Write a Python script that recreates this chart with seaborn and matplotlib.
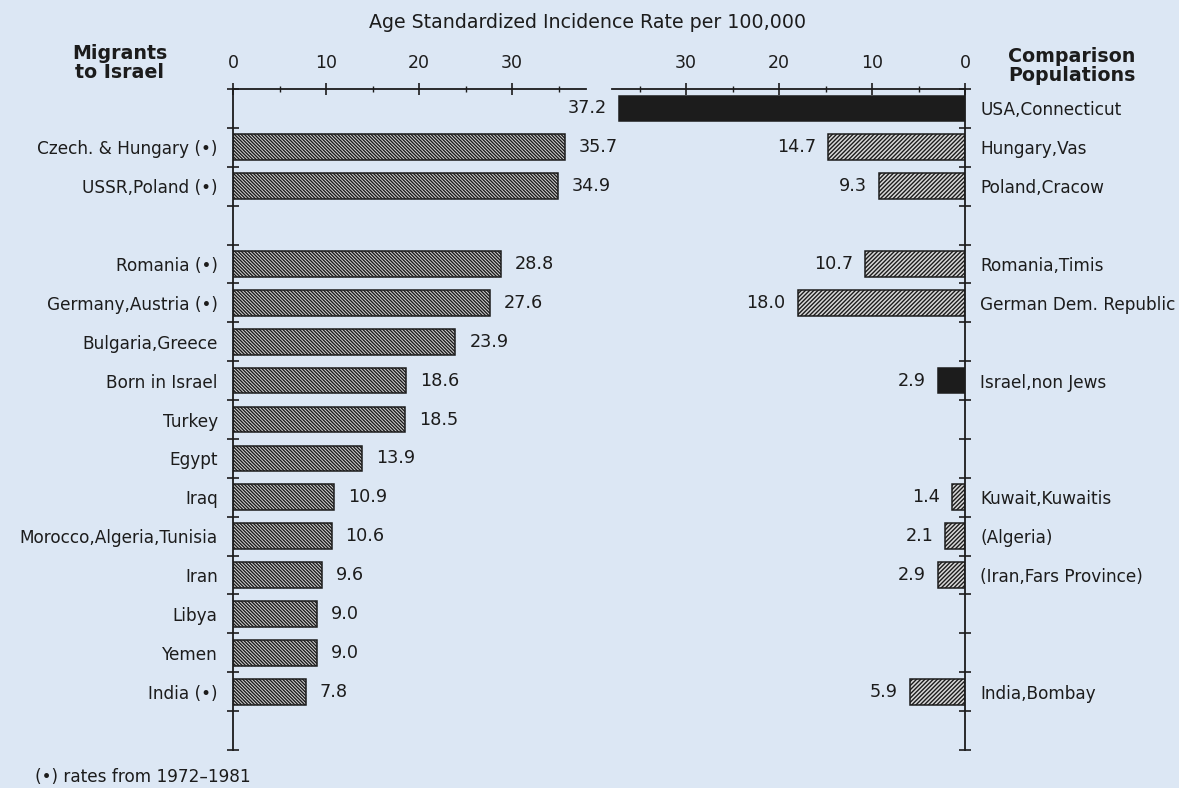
import numpy as np
import pandas as pd
import matplotlib
matplotlib.use("Agg")
import matplotlib.pyplot as plt
import seaborn as sns

# ---------------- data ----------------
row_migrants = ["", "Czech. & Hungary (•)", "USSR,Poland (•)", "",
                "Romania (•)", "Germany,Austria (•)", "Bulgaria,Greece",
                "Born in Israel", "Turkey", "Egypt", "Iraq",
                "Morocco,Algeria,Tunisia", "Iran", "Libya", "Yemen",
                "India (•)", ""]
migrant_rates = [np.nan, 35.7, 34.9, np.nan, 28.8, 27.6, 23.9, 18.6, 18.5,
                 13.9, 10.9, 10.6, 9.6, 9.0, 9.0, 7.8, np.nan]

row_comparisons = ["USA,Connecticut", "Hungary,Vas", "Poland,Cracow", "",
                   "Romania,Timis", "German Dem. Republic", "",
                   "Israel,non Jews", "", "", "Kuwait,Kuwaitis", "(Algeria)",
                   "(Iran,Fars Province)", "", "", "India,Bombay", ""]
comparison_rates = [37.2, 14.7, 9.3, np.nan, 10.7, 18.0, np.nan, 2.9, np.nan,
                    np.nan, 1.4, 2.1, 2.9, np.nan, np.nan, 5.9, np.nan]

major_ticks = [0, 10, 20, 30]
minor_ticks = [5, 15, 25, 35]
title = "Age Standardized Incidence Rate per 100,000"
left_header = "Migrants\nto Israel"
right_header = "Comparison\nPopulations"
footnote = "(•) rates from 1972–1981"

# ---------------- style ----------------
solid_labels = {"USA,Connecticut", "Israel,non Jews"}
bg = "#dce7f4"
ink = "#1c1c1c"
plt.rcParams["font.family"] = ["DejaVu Sans"]
plt.rcParams["hatch.linewidth"] = 1.0
plt.rcParams["hatch.color"] = ink
FS = 12.2

W, H = 1179, 788
fig = plt.figure(figsize=(W / 100, H / 100), dpi=100)
fig.patch.set_facecolor(bg)

XMAX = 38
ppu = 9.3
aw = XMAX * ppu
top_px, bot_px = 89, 750
bottom = 1 - bot_px / H
height = (bot_px - top_px) / H
axL = fig.add_axes([233 / W, bottom, aw / W, height])
axR = fig.add_axes([(965 - aw) / W, bottom, aw / W, height])

nrows = len(row_migrants)
rows = np.arange(nrows)
dfL = pd.DataFrame({"row": rows, "rate": migrant_rates, "label": row_migrants}).dropna()
dfR = pd.DataFrame({"row": rows, "rate": comparison_rates, "label": row_comparisons}).dropna()

for ax, df, labels, side in [(axL, dfL, row_migrants, "left"),
                             (axR, dfR, row_comparisons, "right")]:
    ax.set_facecolor("none")
    sns.barplot(data=df, x="rate", y="row", orient="y", native_scale=True,
                width=0.66, color="#d8d8d8", errorbar=None, ax=ax,
                edgecolor=ink, linewidth=1.1)
    ax.set_ylim(nrows - 0.5, -0.5)
    if side == "left":
        ax.set_xlim(0, XMAX)
    else:
        ax.set_xlim(XMAX, 0)
    ax.set_xlabel("")
    ax.set_ylabel("")
    for s in ax.spines.values():
        s.set_visible(False)
    ax.spines["top"].set_visible(True)
    ax.spines[side].set_visible(True)
    for s in ("top", side):
        ax.spines[s].set_linewidth(1.3)
        ax.spines[s].set_color(ink)

    # top scale
    ax.xaxis.set_ticks_position("top")
    ax.set_xticks(major_ticks)
    ax.set_xticks(minor_ticks, minor=True)
    ax.set_xticklabels([str(t) for t in major_ticks])
    ax.tick_params(axis="x", which="major", direction="inout", length=9,
                   width=1.2, color=ink, labelsize=FS + 0.3, labelcolor=ink, pad=8)
    ax.tick_params(axis="x", which="minor", direction="inout", length=5,
                   width=1.0, color=ink)

    # row boundaries and labels
    ax.yaxis.set_ticks_position(side)
    ax.set_yticks(np.arange(-0.5, nrows, 1.0))
    ax.set_yticklabels([])
    ax.set_yticks(rows, minor=True)
    ax.set_yticklabels(labels, minor=True)
    ax.tick_params(axis="y", which="major", direction="inout", length=8,
                   width=1.2, color=ink)
    ax.tick_params(axis="y", which="minor", length=0, pad=11,
                   labelsize=FS, labelcolor=ink)
    if side == "right":
        ax.tick_params(axis="y", which="both", left=False, labelleft=False,
                       right=True, labelright=True)

    # bar styling + value labels
    lab_by_row = dict(zip(df["row"], df["label"]))
    val_by_row = dict(zip(df["row"], df["rate"]))
    for p in ax.patches:
        r = int(round(p.get_y() + p.get_height() / 2))
        if r not in lab_by_row:
            continue
        if lab_by_row[r] in solid_labels:
            p.set_facecolor(ink)
            p.set_hatch(None)
        else:
            p.set_facecolor("#d8d8d8")
            p.set_hatch("\\" * 10 if side == "left" else "/" * 8)
        v = val_by_row[r]
        off = 14 if side == "left" else -12
        ax.annotate(f"{v:.1f}", xy=(v, r), xytext=(off, 0),
                    textcoords="offset pixels", va="center",
                    ha="left" if side == "left" else "right",
                    fontsize=FS + 0.5, color=ink)

fig.text(588 / W, 1 - 23 / H, title, ha="center", va="center",
         fontsize=FS + 1.5, color=ink)
fig.text(120 / W, 1 - 63 / H, left_header, ha="center", va="center",
         fontsize=FS + 1.5, fontweight="bold", color=ink, linespacing=0.95)
fig.text(1072 / W, 1 - 66 / H, right_header, ha="center", va="center",
         fontsize=FS + 1.5, fontweight="bold", color=ink, linespacing=0.95)
fig.text(35 / W, 1 - 777 / H, footnote, ha="left", va="center",
         fontsize=FS, color=ink)

fig.savefig("out.png", dpi=100, facecolor=bg)
